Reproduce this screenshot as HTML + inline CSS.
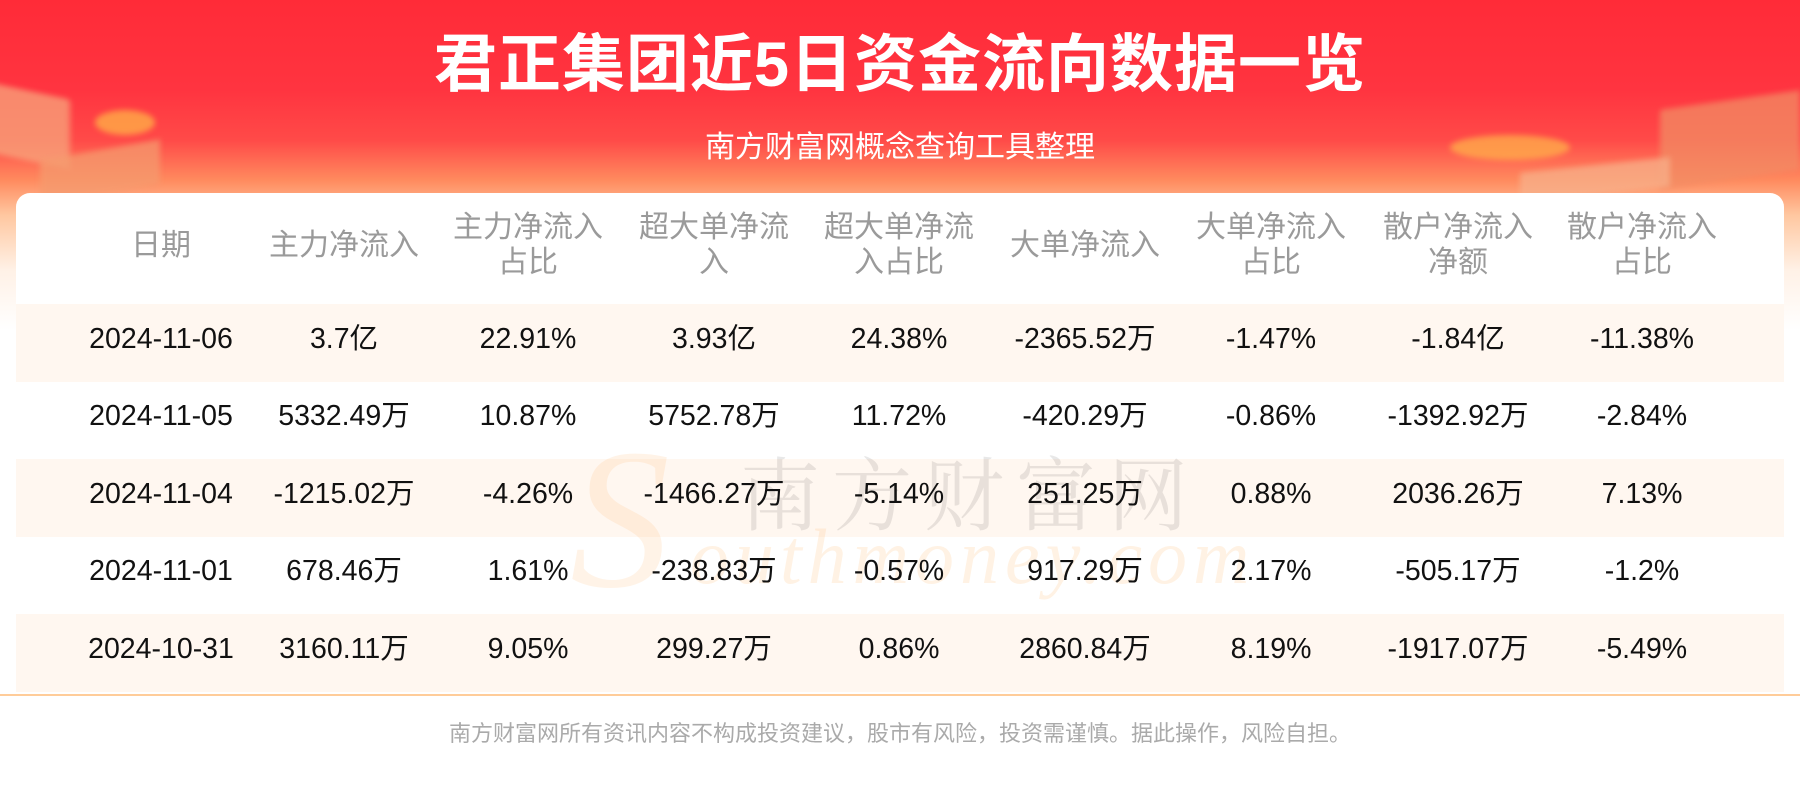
<!DOCTYPE html>
<html><head><meta charset="utf-8"><style>
*{margin:0;padding:0;box-sizing:border-box}
body{width:1800px;height:800px;overflow:hidden;background:#fff;font-family:"Liberation Sans","Noto Sans CJK SC",sans-serif;position:relative}
.bg{position:absolute;left:0;top:0;width:1800px;height:330px;background:linear-gradient(180deg,#ff2b38 0px,#ff3440 90px,#ff4a48 140px,#ff8a5e 180px,#ffc7a0 215px,#fff1e6 270px,#fff 330px)}
.deco{position:absolute;filter:blur(3px);opacity:.75}
.title{position:absolute;left:0;width:1800px;top:14px;text-align:center;color:#fff;font-size:63px;font-weight:bold;letter-spacing:1px}
.sub{position:absolute;left:0;width:1800px;top:122px;text-align:center;color:#fff;font-size:30px}
.card{position:absolute;left:16px;top:193px;width:1768px;height:520px;background:#fff;border-radius:14px 14px 0 0}
.row{position:absolute;left:16px;width:1768px;height:77.5px}
.tint{background:#fff7f0}
.c{position:absolute;transform:translateX(-50%);text-align:center;white-space:nowrap}
.h{color:#9a9a9a;font-size:30px;line-height:35px}
.d{color:#111;font-size:28.5px;line-height:30px}
.line{position:absolute;left:0;top:694px;width:1800px;height:2px;background:#ffcc99}
.foot{position:absolute;left:0;width:1800px;top:716px;text-align:center;color:#aaa;font-size:22px}
.wm{position:absolute;white-space:nowrap}
</style></head><body>
<div class="bg"></div>
<div class="deco" style="left:-20px;top:90px;width:90px;height:70px;background:#f7a57c;transform:skewY(12deg)"></div>
<div class="deco" style="left:40px;top:150px;width:120px;height:45px;background:#f59a6e;transform:skewY(-10deg)"></div>
<div class="deco" style="left:95px;top:110px;width:60px;height:25px;background:#ffb347;border-radius:50%"></div>
<div class="deco" style="left:1660px;top:100px;width:140px;height:80px;background:#f28c64;transform:skewY(-8deg)"></div>
<div class="deco" style="left:1520px;top:165px;width:150px;height:30px;background:#f7b08a;transform:skewY(-6deg)"></div>
<div class="deco" style="left:1450px;top:135px;width:120px;height:25px;background:#ffb04a;border-radius:50%"></div>
<div class="title">君正集团近5日资金流向数据一览</div>
<div class="sub">南方财富网概念查询工具整理</div>
<div class="card"></div>

<div class="row tint" style="top:304px"></div>
<div class="row tint" style="top:459px"></div>
<div class="row tint" style="top:614px"></div>

<div class="wm" style="left:570px;top:420px;font-size:200px;font-style:italic;color:rgba(255,190,120,.18);font-family:'Liberation Serif',serif;line-height:200px">S</div>
<div class="wm" style="left:740px;top:432px;font-size:80px;color:rgba(0,0,0,.09);letter-spacing:12px;font-family:'Noto Serif CJK SC',serif">南方财富网</div>
<div class="wm" style="left:690px;top:512px;font-size:78px;font-style:italic;color:rgba(255,190,120,.2);letter-spacing:6px;font-family:'Liberation Serif',serif">outhmoney.com</div>

<div class="c h" style="left:161px;top:228px">日期</div>
<div class="c h" style="left:344px;top:228px">主力净流入</div>
<div class="c h" style="left:528px;top:210px">主力净流入<br>占比</div>
<div class="c h" style="left:714px;top:210px">超大单净流<br>入</div>
<div class="c h" style="left:899px;top:210px">超大单净流<br>入占比</div>
<div class="c h" style="left:1085px;top:228px">大单净流入</div>
<div class="c h" style="left:1271px;top:210px">大单净流入<br>占比</div>
<div class="c h" style="left:1458px;top:210px">散户净流入<br>净额</div>
<div class="c h" style="left:1642px;top:210px">散户净流入<br>占比</div>

<div style="position:absolute;left:0;top:324px;width:1800px">
<div class="c d" style="left:161px">2024-11-06</div><div class="c d" style="left:344px">3.7亿</div><div class="c d" style="left:528px">22.91%</div><div class="c d" style="left:714px">3.93亿</div><div class="c d" style="left:899px">24.38%</div><div class="c d" style="left:1085px">-2365.52万</div><div class="c d" style="left:1271px">-1.47%</div><div class="c d" style="left:1458px">-1.84亿</div><div class="c d" style="left:1642px">-11.38%</div>
</div>
<div style="position:absolute;left:0;top:401px;width:1800px">
<div class="c d" style="left:161px">2024-11-05</div><div class="c d" style="left:344px">5332.49万</div><div class="c d" style="left:528px">10.87%</div><div class="c d" style="left:714px">5752.78万</div><div class="c d" style="left:899px">11.72%</div><div class="c d" style="left:1085px">-420.29万</div><div class="c d" style="left:1271px">-0.86%</div><div class="c d" style="left:1458px">-1392.92万</div><div class="c d" style="left:1642px">-2.84%</div>
</div>
<div style="position:absolute;left:0;top:479px;width:1800px">
<div class="c d" style="left:161px">2024-11-04</div><div class="c d" style="left:344px">-1215.02万</div><div class="c d" style="left:528px">-4.26%</div><div class="c d" style="left:714px">-1466.27万</div><div class="c d" style="left:899px">-5.14%</div><div class="c d" style="left:1085px">251.25万</div><div class="c d" style="left:1271px">0.88%</div><div class="c d" style="left:1458px">2036.26万</div><div class="c d" style="left:1642px">7.13%</div>
</div>
<div style="position:absolute;left:0;top:556px;width:1800px">
<div class="c d" style="left:161px">2024-11-01</div><div class="c d" style="left:344px">678.46万</div><div class="c d" style="left:528px">1.61%</div><div class="c d" style="left:714px">-238.83万</div><div class="c d" style="left:899px">-0.57%</div><div class="c d" style="left:1085px">917.29万</div><div class="c d" style="left:1271px">2.17%</div><div class="c d" style="left:1458px">-505.17万</div><div class="c d" style="left:1642px">-1.2%</div>
</div>
<div style="position:absolute;left:0;top:634px;width:1800px">
<div class="c d" style="left:161px">2024-10-31</div><div class="c d" style="left:344px">3160.11万</div><div class="c d" style="left:528px">9.05%</div><div class="c d" style="left:714px">299.27万</div><div class="c d" style="left:899px">0.86%</div><div class="c d" style="left:1085px">2860.84万</div><div class="c d" style="left:1271px">8.19%</div><div class="c d" style="left:1458px">-1917.07万</div><div class="c d" style="left:1642px">-5.49%</div>
</div>

<div class="line"></div>
<div class="foot">南方财富网所有资讯内容不构成投资建议，股市有风险，投资需谨慎。据此操作，风险自担。</div>
</body></html>
